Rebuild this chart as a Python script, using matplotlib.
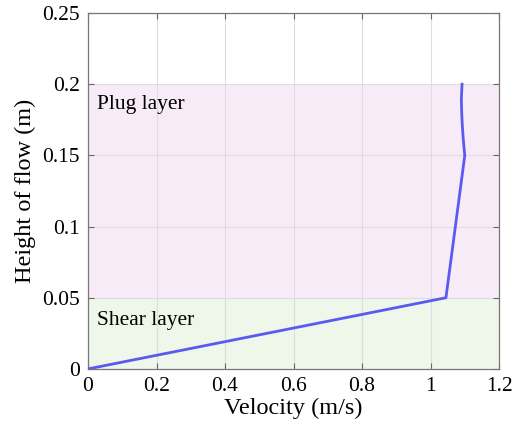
import matplotlib
matplotlib.use("Agg")
import matplotlib.pyplot as plt

velocity = [0.0, 1.045, 1.100, 1.096, 1.093, 1.091, 1.090, 1.091, 1.092]
height = [0.0, 0.05, 0.15, 0.16, 0.17, 0.18, 0.19, 0.195, 0.2]
shear_layer = (0.0, 0.05)
plug_layer = (0.05, 0.2)
xticks = [0, 0.2, 0.4, 0.6, 0.8, 1, 1.2]
xtick_labels = ["0", "0.2", "0.4", "0.6", "0.8", "1", "1.2"]
yticks = [0, 0.05, 0.1, 0.15, 0.2, 0.25]
ytick_labels = ["0", "0.05", "0.1", "0.15", "0.2", "0.25"]

plt.rcParams['font.family'] = ['Liberation Serif', 'DejaVu Serif']
fig = plt.figure(figsize=(5.22, 4.33), dpi=100)
ax = fig.add_axes([0.1686, 0.148, 0.7874, 0.822])

ax.axhspan(*shear_layer, color='#eef7e9', zorder=0, lw=0)
ax.axhspan(*plug_layer, color='#f8ebf8', zorder=0, lw=0)
ax.plot(velocity, height, color='#5a5af0', lw=2, zorder=3)

ax.text(0.026, 0.186, "Plug layer", fontsize=15.5, va='center', ha='left')
ax.text(0.026, 0.034, "Shear layer", fontsize=15.5, va='center', ha='left')

ax.set_xlim(0, 1.2)
ax.set_ylim(0, 0.25)
ax.set_xticks(xticks)
ax.set_xticklabels(xtick_labels)
ax.set_yticks(yticks)
ax.set_yticklabels(ytick_labels)
ax.grid(True, color='#dddddd', lw=0.8, zorder=1)
ax.set_axisbelow(True)
ax.tick_params(direction='in', top=True, right=True, labelsize=15.5, length=4, color='#666666', pad=6)
for s in ax.spines.values():
    s.set_color('#777777')
    s.set_linewidth(0.9)
ax.set_xlabel("Velocity (m/s)", fontsize=17.5, labelpad=1)
ax.set_ylabel("Height of flow (m)", fontsize=17.5, labelpad=4)

fig.savefig("out.png", dpi=100)
